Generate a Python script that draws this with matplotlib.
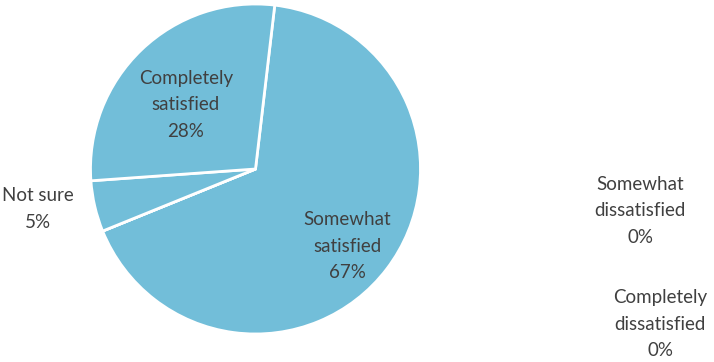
import matplotlib
matplotlib.use("Agg")
import matplotlib.pyplot as plt

# data
categories = ["Somewhat\nsatisfied", "Somewhat\ndissatisfied", "Completely\ndissatisfied",
              "Not sure", "Completely\nsatisfied"]
values = [67, 0, 0, 5, 28]

# label centres in pixel coordinates (x, y from top)
label_pos = [(347, 246), (640, 211), (660, 324), (38, 209), (186, 105)]

plt.rcParams["font.family"] = ["Lato", "DejaVu Sans"]

fig = plt.figure(figsize=(7.14, 3.62), dpi=100)
ax = fig.add_axes([0, 0, 1, 1])
ax.set_xlim(0, 714)
ax.set_ylim(0, 362)
ax.set_aspect("equal")
ax.axis("off")

ax.pie(values, center=(255.5, 362 - 169), radius=165, startangle=83.3,
       counterclock=False, colors=["#72BED9"] * len(values),
       wedgeprops=dict(edgecolor="white", linewidth=2))

for cat, v, (px, py) in zip(categories, values, label_pos):
    ax.text(px, 362 - py, f"{cat}\n{v}%", ha="center", va="center",
            fontsize=13.5, color="#404040", linespacing=1.7)

ax.set_xlim(0, 714)
ax.set_ylim(0, 362)
fig.savefig("out.png", dpi=100)
